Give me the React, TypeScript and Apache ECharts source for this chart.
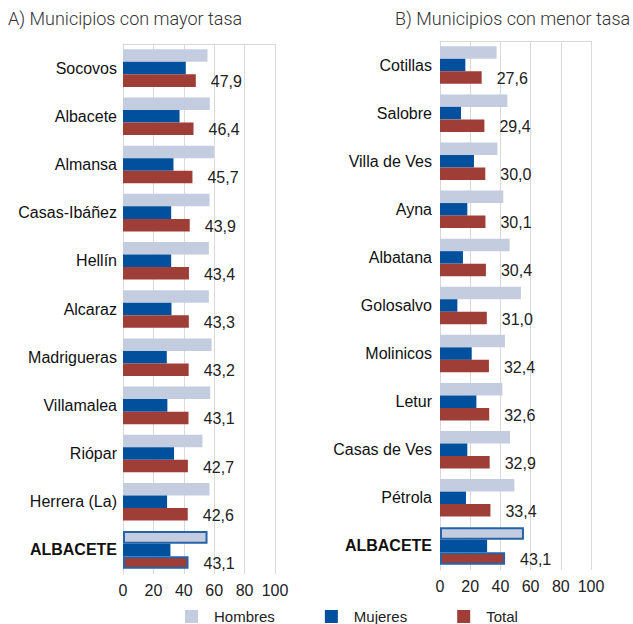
import React, { useEffect, useRef } from "react";
import * as echarts from "echarts";

const leftCategories = ["Socovos", "Albacete", "Almansa", "Casas-Ibáñez", "Hellín", "Alcaraz", "Madrigueras", "Villamalea", "Riópar", "Herrera (La)", "ALBACETE"];
const leftHombres = [55.6, 57.1, 59.8, 56.9, 56.5, 56.5, 58.3, 57.4, 52.3, 56.9, 55.6];
const leftMujeres = [41.3, 37.2, 33.2, 31.7, 31.7, 31.9, 28.8, 29.2, 33.6, 29.0, 31.2];
const leftTotal = [47.9, 46.4, 45.7, 43.9, 43.4, 43.3, 43.2, 43.1, 42.7, 42.6, 43.1];

const rightCategories = ["Cotillas", "Salobre", "Villa de Ves", "Ayna", "Albatana", "Golosalvo", "Molinicos", "Letur", "Casas de Ves", "Pétrola", "ALBACETE"];
const rightHombres = [37.5, 44.6, 38.0, 41.9, 46.1, 53.6, 43.0, 41.3, 46.4, 49.2, 55.6];
const rightMujeres = [16.8, 13.9, 22.5, 18.1, 15.2, 11.5, 21.0, 24.1, 18.1, 17.2, 31.2];
const rightTotal = [27.6, 29.4, 30.0, 30.1, 30.4, 31.0, 32.4, 32.6, 32.9, 33.4, 43.1];

const xTicks = [0, 20, 40, 60, 80, 100];
const titles = ["A) Municipios con mayor tasa", "B) Municipios con menor tasa"];
const seriesNames = ["Hombres", "Mujeres", "Total"];

const COLORS = ["#c4cce0", "#00509e", "#9f3d37"];
const HIGHLIGHT = "#2463a8";
const FONT = "'Liberation Sans', Arial, sans-serif";

function withHighlight(values: number[], cats: string[], si: number) {
  return values.map((v, i) =>
    cats[i] === "ALBACETE" && si !== 1
      ? { value: v, itemStyle: { borderColor: HIGHLIGHT, borderWidth: 2 } }
      : v
  );
}

export default function App() {
  const ref = useRef<HTMLDivElement>(null);
  useEffect(() => {
    document.body.style.margin = "0";
    const chart = echarts.init(ref.current!, null, { renderer: "svg" });
    const grids = [
      { left: 123, top: 44, width: 152, height: 530 },
      { left: 440, top: 41, width: 151, height: 529 },
    ];
    const cats = [leftCategories, rightCategories];
    const data = [
      [leftHombres, leftMujeres, leftTotal],
      [rightHombres, rightMujeres, rightTotal],
    ];
    const xAxis: any[] = [];
    const yAxis: any[] = [];
    const series: any[] = [];
    grids.forEach((g, gi) => {
      xAxis.push({
        type: "value",
        gridIndex: gi,
        min: xTicks[0],
        max: xTicks[xTicks.length - 1],
        interval: xTicks[1] - xTicks[0],
        axisLine: { show: false },
        axisTick: { show: false },
        splitLine: { show: true, lineStyle: { color: "#d9d9d9", width: 1 } },
        axisLabel: { fontFamily: FONT, fontSize: 16, color: "#222", margin: 8 },
      });
      xAxis.push({
        type: "value",
        gridIndex: gi,
        position: "top",
        min: xTicks[0],
        max: xTicks[xTicks.length - 1],
        interval: xTicks[1] - xTicks[0],
        axisLine: { show: true, lineStyle: { color: "#d9d9d9", width: 1 } },
        axisTick: { show: false },
        splitLine: { show: false },
        axisLabel: { show: false },
      });
      yAxis.push({
        type: "category",
        gridIndex: gi,
        inverse: true,
        data: cats[gi],
        axisLine: { show: true, lineStyle: { color: "#d9d9d9", width: 1 } },
        axisTick: { show: false },
        axisLabel: {
          fontFamily: FONT,
          fontSize: 16,
          color: "#111",
          margin: gi === 0 ? 6 : 8,
          formatter: (v: string) => (v === "ALBACETE" ? `{b|${v}}` : v),
          rich: { b: { fontFamily: FONT, fontSize: 16, fontWeight: "bold", color: "#111" } },
        },
      });
      seriesNames.forEach((name, si) => {
        series.push({
          type: "bar",
          name,
          xAxisIndex: gi * 2,
          yAxisIndex: gi,
          barGap: "0%",
          barCategoryGap: "22%",
          itemStyle: { color: COLORS[si] },
          data: withHighlight(data[gi][si], cats[gi], si),
          label:
            si === 2
              ? {
                  show: true,
                  position: "right",
                  distance: 15,
                  fontFamily: FONT,
                  fontSize: 16,
                  color: "#222",
                  offset: [0, 1],
                  formatter: (p: any) => Number(p.value).toFixed(1).replace(".", ","),
                }
              : { show: false },
        });
      });
    });
    chart.setOption({
      animation: false,
      backgroundColor: "#fff",
      title: [
        { text: titles[0], left: 8, top: 9, padding: 0, textStyle: { fontFamily: "Roboto", fontWeight: 300, fontSize: 18, color: "#333" } },
        { text: titles[1], left: 395, top: 9, padding: 0, textStyle: { fontFamily: "Roboto", fontWeight: 300, fontSize: 18, color: "#333" } },
      ],
      grid: grids,
      xAxis,
      yAxis,
      legend: {
        data: seriesNames,
        left: 185,
        top: 609,
        padding: 0,
        itemWidth: 13,
        itemHeight: 13,
        itemGap: 50,
        icon: "rect",
        textStyle: { fontFamily: FONT, fontSize: 15, color: "#222", padding: [0, 0, 0, 11] },
      },
      series,
    });
    return () => chart.dispose();
  }, []);
  return <div ref={ref} style={{ width: 633, height: 624 }} />;
}
